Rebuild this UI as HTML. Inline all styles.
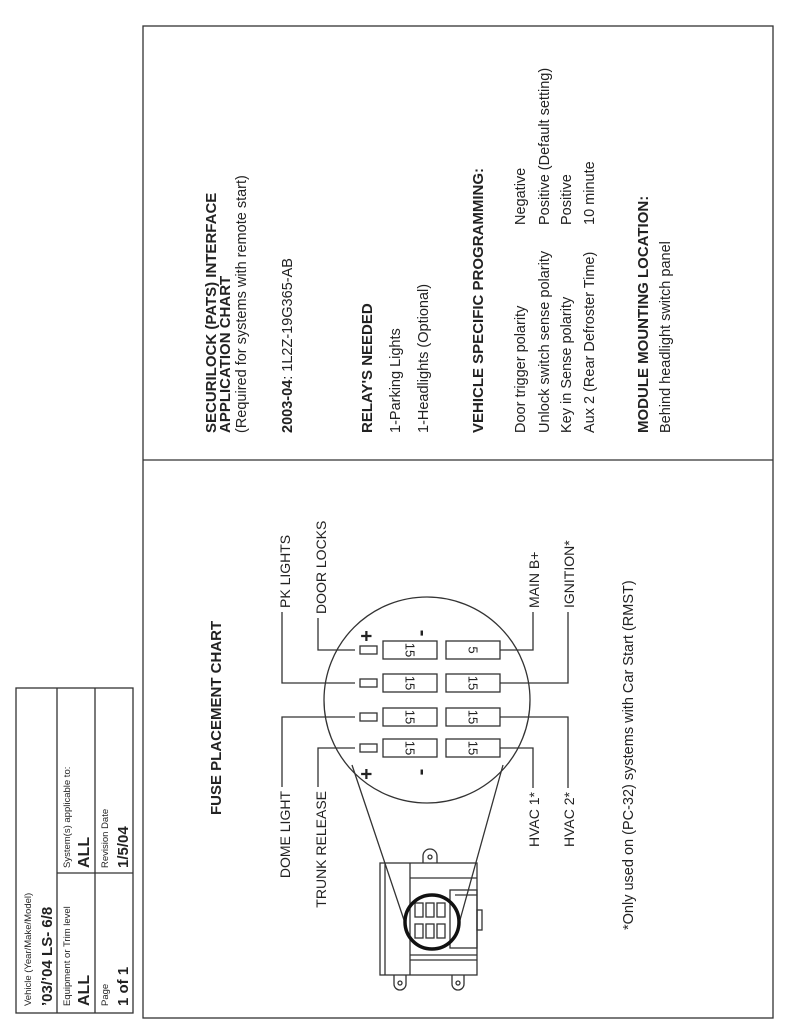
<!DOCTYPE html>
<html><head><meta charset="utf-8"><style>
html,body{margin:0;padding:0;background:#fff;}
svg{display:block;}
text{font-family:"Liberation Sans",Arial,sans-serif;fill:#222;}
.b{font-weight:bold;}
</style></head><body>
<svg width="800" height="1035" viewBox="0 0 800 1035" xmlns="http://www.w3.org/2000/svg">
<g fill="none" stroke="#333" stroke-width="1.3">
<rect x="143" y="26" width="630" height="992"/>
<line x1="143" y1="460" x2="773" y2="460"/>
<!-- title block -->
<rect x="16" y="688" width="117" height="325"/>
<line x1="57" y1="688" x2="57" y2="1013"/>
<line x1="95" y1="688" x2="95" y2="1013"/>
<line x1="57" y1="873" x2="133" y2="873"/>
<!-- big circle -->
<circle cx="427" cy="700" r="103"/>
<!-- small rects -->
<rect x="360" y="646" width="17" height="8"/>
<rect x="360" y="679" width="17" height="8"/>
<rect x="360" y="713" width="17" height="8"/>
<rect x="360" y="744" width="17" height="8"/>
<rect x="383" y="641" width="54" height="18"/>
<rect x="383" y="674" width="54" height="18"/>
<rect x="383" y="708" width="54" height="18"/>
<rect x="383" y="739" width="54" height="18"/>
<rect x="446" y="641" width="54" height="18"/>
<rect x="446" y="674" width="54" height="18"/>
<rect x="446" y="708" width="54" height="18"/>
<rect x="446" y="739" width="54" height="18"/>
<!-- connectors -->
<polyline points="318,618 318,650 355,650"/>
<polyline points="282,612 282,683 355,683"/>
<polyline points="282,787 282,717 355,717"/>
<polyline points="318,787 318,748 355,748"/>
<polyline points="533,612 533,650 500,650"/>
<polyline points="568,612 568,683 500,683"/>
<polyline points="533,788 533,748 500,748"/>
<polyline points="568,788 568,717 500,717"/>
<!-- tangent lines -->
<line x1="352" y1="765" x2="405" y2="923"/>
<line x1="503" y1="765" x2="460" y2="920"/>
<!-- module -->
<rect x="380" y="863" width="97" height="112"/>
<line x1="385" y1="863" x2="385" y2="975"/>
<line x1="410" y1="863" x2="410" y2="975"/>
<line x1="410" y1="878" x2="477" y2="878"/>
<line x1="410" y1="955" x2="477" y2="955"/>
<line x1="410" y1="960" x2="477" y2="960"/>
<rect x="450" y="890" width="27" height="58"/>
<line x1="455" y1="895" x2="477" y2="895"/>
<rect x="477" y="910" width="5" height="20"/>
<path d="M423,863 L423,856 A7,7 0 0 1 437,856 L437,863"/>
<circle cx="430" cy="857" r="2"/>
<path d="M394,975 L394,984 A6,6 0 0 0 406,984 L406,975"/>
<circle cx="400" cy="983" r="2"/>
<path d="M452,975 L452,984 A6,6 0 0 0 464,984 L464,975"/>
<circle cx="458" cy="983" r="2"/>
<rect x="415" y="903" width="8" height="14"/>
<rect x="426" y="903" width="8" height="14"/>
<rect x="437" y="903" width="8" height="14"/>
<rect x="415" y="924" width="8" height="14"/>
<rect x="426" y="924" width="8" height="14"/>
<rect x="437" y="924" width="8" height="14"/>
<circle cx="432" cy="922" r="27" stroke-width="3.5" stroke="#111"/>
</g>
<!-- plus/minus -->
<g font-size="20" class="b">
<text class="b" transform="translate(373,636) rotate(-90)" text-anchor="middle">+</text>
<text class="b" transform="translate(373,774) rotate(-90)" text-anchor="middle">+</text>
<text class="b" transform="translate(427,633) rotate(-90)" text-anchor="middle">-</text>
<text class="b" transform="translate(427,772) rotate(-90)" text-anchor="middle">-</text>
</g>
<!-- fuse values -->
<g font-size="13">
<text transform="translate(410,650) rotate(90)" text-anchor="middle" dominant-baseline="central">15</text>
<text transform="translate(410,683) rotate(90)" text-anchor="middle" dominant-baseline="central">15</text>
<text transform="translate(410,717) rotate(90)" text-anchor="middle" dominant-baseline="central">15</text>
<text transform="translate(410,748) rotate(90)" text-anchor="middle" dominant-baseline="central">15</text>
<text transform="translate(473,650) rotate(90)" text-anchor="middle" dominant-baseline="central">5</text>
<text transform="translate(473,683) rotate(90)" text-anchor="middle" dominant-baseline="central">15</text>
<text transform="translate(473,717) rotate(90)" text-anchor="middle" dominant-baseline="central">15</text>
<text transform="translate(473,748) rotate(90)" text-anchor="middle" dominant-baseline="central">15</text>
</g>
<!-- fuse chart labels -->
<g font-size="14">
<text class="b" font-size="15" transform="translate(221,815) rotate(-90)">FUSE PLACEMENT CHART</text>
<text transform="translate(326,614) rotate(-90)">DOOR LOCKS</text>
<text transform="translate(290,608) rotate(-90)">PK LIGHTS</text>
<text transform="translate(290,791) rotate(-90)" text-anchor="end">DOME LIGHT</text>
<text transform="translate(326,791) rotate(-90)" text-anchor="end">TRUNK RELEASE</text>
<text transform="translate(539,608) rotate(-90)">MAIN B+</text>
<text transform="translate(574,608) rotate(-90)">IGNITION*</text>
<text transform="translate(539,792) rotate(-90)" text-anchor="end">HVAC 1*</text>
<text transform="translate(574,792) rotate(-90)" text-anchor="end">HVAC 2*</text>
<text font-size="14.5" transform="translate(633,930) rotate(-90)">*Only used on (PC-32) systems with Car Start (RMST)</text>
</g>
<!-- right panel -->
<g font-size="14.5">
<text class="b" font-size="15" transform="translate(216,433) rotate(-90)">SECURILOCK (PATS) INTERFACE</text>
<text class="b" font-size="15" transform="translate(230,433) rotate(-90)">APPLICATION CHART</text>
<text transform="translate(246,433) rotate(-90)">(Required for systems with remote start)</text>
<text transform="translate(292,433) rotate(-90)"><tspan class="b">2003-04</tspan>: 1L2Z-19G365-AB</text>
<text class="b" font-size="15" transform="translate(372,433) rotate(-90)">RELAY'S NEEDED</text>
<text transform="translate(400,433) rotate(-90)">1-Parking Lights</text>
<text transform="translate(428,433) rotate(-90)">1-Headlights (Optional)</text>
<text class="b" font-size="15" transform="translate(483,433) rotate(-90)">VEHICLE SPECIFIC PROGRAMMING:</text>
<text transform="translate(525,433) rotate(-90)">Door trigger polarity</text>
<text transform="translate(549,433) rotate(-90)">Unlock switch sense polarity</text>
<text transform="translate(571,433) rotate(-90)">Key in Sense polarity</text>
<text transform="translate(594,433) rotate(-90)">Aux 2 (Rear Defroster Time)</text>
<text transform="translate(525,225) rotate(-90)">Negative</text>
<text transform="translate(549,225) rotate(-90)">Positive (Default setting)</text>
<text transform="translate(571,225) rotate(-90)">Positive</text>
<text transform="translate(594,225) rotate(-90)">10 minute</text>
<text class="b" font-size="15" transform="translate(648,433) rotate(-90)">MODULE MOUNTING LOCATION:</text>
<text transform="translate(670,433) rotate(-90)">Behind headlight switch panel</text>
</g>
<!-- title block text -->
<g font-size="9.5">
<text transform="translate(31,1006) rotate(-90)">Vehicle (Year/Make/Model)</text>
<text class="b" font-size="15" transform="translate(52,1006) rotate(-90)">’03/’04 LS- 6/8</text>
<text transform="translate(70,1006) rotate(-90)">Equipment or Trim level</text>
<text class="b" font-size="16" transform="translate(89,1006) rotate(-90)">ALL</text>
<text transform="translate(70,868) rotate(-90)">System(s) applicable to:</text>
<text class="b" font-size="16" transform="translate(89,868) rotate(-90)">ALL</text>
<text transform="translate(108,1006) rotate(-90)">Page</text>
<text class="b" font-size="15" transform="translate(128,1006) rotate(-90)">1 of 1</text>
<text transform="translate(108,868) rotate(-90)">Revision Date</text>
<text class="b" font-size="15" transform="translate(128,868) rotate(-90)">1/5/04</text>
</g>
</svg>
</body></html>
